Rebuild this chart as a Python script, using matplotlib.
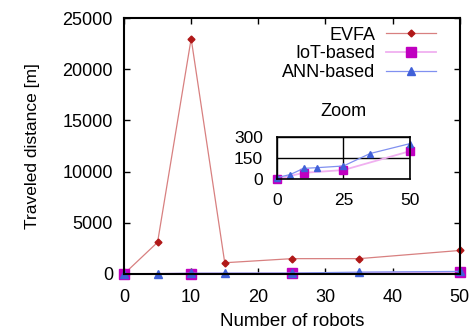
import matplotlib
matplotlib.use('Agg')
import matplotlib.pyplot as plt

plt.rcParams['font.family'] = ['Liberation Sans', 'DejaVu Sans']

# data
evfa_x = [0, 5, 10, 15, 25, 35, 50]
evfa_y = [0, 3100, 23000, 1100, 1500, 1500, 2300]
iot_x = [0, 10, 25, 50]
iot_y = [0, 44, 64, 199]
ann_x = [0, 5, 10, 15, 25, 35, 50]
ann_y = [10, 32, 76, 81, 93, 182, 253]

x_ticks = [0, 10, 20, 30, 40, 50]
y_ticks = [0, 5000, 10000, 15000, 20000, 25000]


def draw(ax, ms=1.0, with_evfa=True):
    if with_evfa:
        ax.plot(evfa_x, evfa_y, color='#d88080', lw=0.9, marker='D', ms=3.5 * ms,
                mfc='#b01818', mec='#b01818', label='EVFA', clip_on=False)
    ax.plot(iot_x, iot_y, color='#f0b0f0', lw=1.3, marker='s', ms=7 * ms,
            mfc='#c000c0', mec='#c000c0', label='IoT-based', clip_on=False)
    ax.plot(ann_x, ann_y, color='#8090f0', lw=0.9, marker='^', ms=5.5 * ms,
            mfc='#4060d8', mec='#4060d8', label='ANN-based', clip_on=False)


fig = plt.figure(figsize=(4.76, 3.30), dpi=100)
ax = fig.add_axes([0.2605, 0.1697, 0.7055, 0.7753])
draw(ax)
ax.set_xlim(0, 50)
ax.set_ylim(0, 25000)
ax.set_xticks(x_ticks)
ax.set_yticks(y_ticks)
ax.tick_params(direction='in', top=True, right=True, labelsize=13, width=1, length=4)
ax.tick_params(axis='x', pad=11)
ax.tick_params(axis='y', pad=8)
for s in ax.spines.values():
    s.set_linewidth(1.5)
ax.set_xlabel('Number of robots', fontsize=13.5, labelpad=5)
ax.set_ylabel('Traveled distance [m]', fontsize=12.5, labelpad=16)
ax.legend(loc='upper right', bbox_to_anchor=(0.952, 0.995), frameon=False,
          markerfirst=False, fontsize=13, handlelength=2.8, handletextpad=0.6,
          labelspacing=0.1, borderaxespad=0)

# zoomed inset
ins = fig.add_axes([0.582, 0.4576, 0.279, 0.127])
draw(ins, 0.85, with_evfa=False)
ins.set_xlim(0, 50)
ins.set_ylim(0, 300)
ins.set_xticks([0, 25, 50])
ins.set_yticks([0, 150, 300])
ins.grid(True, color='black', lw=1)
ins.tick_params(direction='in', length=0, labelsize=12.5, pad=10)
for s in ins.spines.values():
    s.set_linewidth(1.2)
ins.set_title('Zoom', fontsize=13, pad=15)

fig.savefig('out.png', dpi=100)
